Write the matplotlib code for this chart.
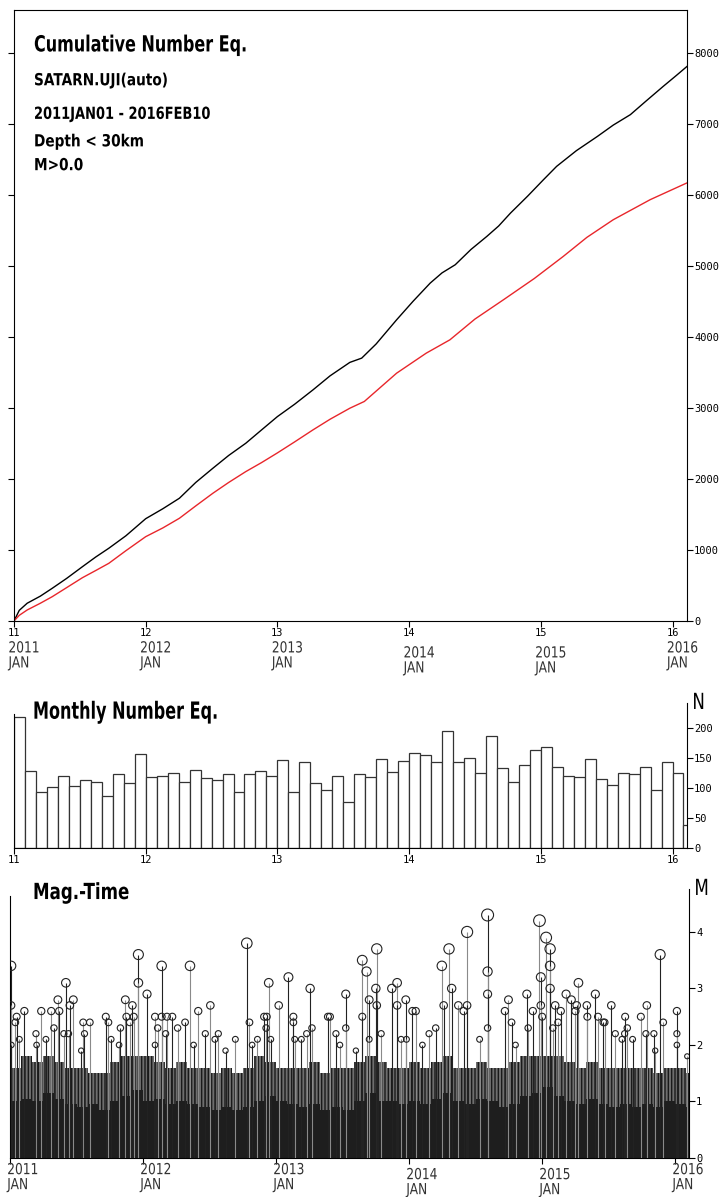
import matplotlib
matplotlib.use("Agg")
import matplotlib.pyplot as plt
import matplotlib.patheffects as pe
from matplotlib.transforms import Affine2D

# ---- data ----
# cumulative curves (decimal year, count)
cum_t = [2011.0, 2011.04, 2011.1, 2011.2, 2011.29, 2011.4, 2011.52, 2011.62, 2011.72, 2011.85,
         2012.0, 2012.13, 2012.256, 2012.38, 2012.51, 2012.63, 2012.76, 2012.88,
         2013.0, 2013.13, 2013.27, 2013.4, 2013.55, 2013.64, 2013.75, 2013.905,
         2014.03, 2014.16, 2014.25, 2014.35, 2014.47, 2014.59, 2014.68, 2014.77, 2014.9,
         2015.02, 2015.12, 2015.27, 2015.43, 2015.55, 2015.68, 2015.8, 2015.93, 2016.03, 2016.117]
cum_all = [0, 150, 250, 350, 460, 600, 765, 900, 1024, 1200,
           1440, 1580, 1728, 1950, 2150, 2330, 2502, 2690,
           2877, 3050, 3253, 3451, 3640, 3700, 3900, 4239,
           4500, 4756, 4900, 5014, 5230, 5413, 5560, 5742, 5980,
           6211, 6399, 6620, 6821, 6980, 7127, 7320, 7526, 7680, 7817]

red_t = [2011.0, 2011.04, 2011.1, 2011.2, 2011.29, 2011.4, 2011.52, 2011.62, 2011.72, 2011.85,
         2012.0, 2012.13, 2012.256, 2012.38, 2012.51, 2012.63, 2012.76, 2012.88,
         2013.0, 2013.13, 2013.27, 2013.4, 2013.55, 2013.66, 2013.905,
         2014.13, 2014.31, 2014.5, 2014.716, 2014.95, 2015.17, 2015.35, 2015.55, 2015.83, 2016.107]
cum_red = [0, 80, 155, 250, 342, 470, 610, 710, 812, 990,
           1187, 1310, 1446, 1620, 1798, 1950, 2103, 2230,
           2366, 2520, 2690, 2840, 2995, 3090, 3488,
           3770, 3958, 4250, 4521, 4820, 5131, 5400, 5648, 5930, 6164]

# monthly counts, 2011 JAN .. 2016 FEB (last month partial)
monthly_n = [219, 129, 93, 101, 120, 104, 113, 110, 86, 124, 108, 157,
             118, 120, 126, 110, 131, 117, 113, 124, 93, 124, 128, 120,
             147, 93, 143, 108, 96, 120, 77, 123, 118, 149, 127, 146,
             159, 155, 144, 196, 143, 151, 125, 187, 133, 110, 138, 163,
             169, 135, 121, 118, 149, 115, 105, 126, 123, 136, 96, 143,
             126, 39]

# larger events of the magnitude-time plot
ev_year = [2011.008, 2011.008, 2011.01, 2011.04, 2011.05, 2011.07, 2011.108, 2011.195, 2011.2, 2011.235,
           2011.27, 2011.31, 2011.33, 2011.36, 2011.37, 2011.405, 2011.42, 2011.44, 2011.45, 2011.476,
           2011.535, 2011.55, 2011.56, 2011.60, 2011.72, 2011.74, 2011.76, 2011.82, 2011.83, 2011.867,
           2011.875, 2011.90, 2011.92, 2011.93, 2011.965, 2011.965,
           2012.03, 2012.09, 2012.09, 2012.11, 2012.14, 2012.14, 2012.17, 2012.18, 2012.22, 2012.26,
           2012.316, 2012.353, 2012.38, 2012.415, 2012.468, 2012.506, 2012.54, 2012.566, 2012.62, 2012.694,
           2012.78, 2012.80, 2012.82, 2012.86, 2012.91, 2012.925, 2012.93, 2012.945, 2012.96,
           2013.02, 2013.093, 2013.13, 2013.13, 2013.14, 2013.19, 2013.23, 2013.256, 2013.27, 2013.39,
           2013.405, 2013.45, 2013.48, 2013.524, 2013.524, 2013.6, 2013.648, 2013.648, 2013.68, 2013.70,
           2013.70, 2013.75, 2013.757, 2013.757, 2013.79, 2013.87, 2013.91, 2013.91, 2013.94, 2013.975, 2013.98,
           2014.025, 2014.05, 2014.1, 2014.15, 2014.2, 2014.246, 2014.26, 2014.30, 2014.32, 2014.37,
           2014.41, 2014.436, 2014.436, 2014.53, 2014.59, 2014.59, 2014.59, 2014.59, 2014.72, 2014.747,
           2014.77, 2014.80, 2014.885, 2014.895, 2014.93, 2014.98, 2014.99, 2014.99,
           2015.0, 2015.03, 2015.06, 2015.06, 2015.06, 2015.08, 2015.098, 2015.12, 2015.14, 2015.18,
           2015.22, 2015.25, 2015.26, 2015.273, 2015.336, 2015.34, 2015.40, 2015.42, 2015.46, 2015.47,
           2015.52, 2015.55, 2015.60, 2015.62, 2015.624, 2015.64, 2015.68, 2015.742, 2015.78, 2015.787,
           2015.84, 2015.85, 2015.887, 2015.91,
           2016.013, 2016.013, 2016.013, 2016.09]
ev_mag = [3.4, 2.7, 2.0, 2.4, 2.5, 2.1, 2.6, 2.2, 2.0, 2.6,
          2.1, 2.6, 2.3, 2.8, 2.6, 2.2, 3.1, 2.2, 2.7, 2.8,
          1.9, 2.4, 2.2, 2.4, 2.5, 2.4, 2.1, 2.0, 2.3, 2.8,
          2.5, 2.4, 2.7, 2.5, 3.6, 3.1,
          2.9, 2.5, 2.0, 2.3, 3.4, 2.5, 2.2, 2.5, 2.5, 2.3,
          2.4, 3.4, 2.0, 2.6, 2.2, 2.7, 2.1, 2.2, 1.9, 2.1,
          3.8, 2.4, 2.0, 2.1, 2.5, 2.3, 2.5, 3.1, 2.1,
          2.7, 3.2, 2.5, 2.4, 2.1, 2.1, 2.2, 3.0, 2.3, 2.5,
          2.5, 2.2, 2.0, 2.9, 2.3, 1.9, 3.5, 2.5, 3.3, 2.8,
          2.1, 3.0, 3.7, 2.7, 2.2, 3.0, 3.1, 2.7, 2.1, 2.8, 2.1,
          2.6, 2.6, 2.0, 2.2, 2.3, 3.4, 2.7, 3.7, 3.0, 2.7,
          2.6, 4.0, 2.7, 2.1, 4.3, 3.3, 2.9, 2.3, 2.6, 2.8,
          2.4, 2.0, 2.9, 2.3, 2.6, 4.2, 3.2, 2.7,
          2.5, 3.9, 3.7, 3.4, 3.0, 2.3, 2.7, 2.4, 2.6, 2.9,
          2.8, 2.6, 2.7, 3.1, 2.7, 2.5, 2.9, 2.5, 2.4, 2.4,
          2.7, 2.2, 2.1, 2.2, 2.5, 2.3, 2.1, 2.5, 2.2, 2.7,
          2.2, 1.9, 3.6, 2.4,
          2.6, 2.2, 2.0, 1.8]

# per month: level of the solid black mass of small events, and top of the dense swarm above it
solid_top = [1.0, 1.05, 1.0, 1.15, 1.05, 0.95, 0.9, 0.95, 0.85, 1.0, 1.1, 1.2,
             1.0, 1.05, 0.95, 1.0, 0.95, 0.9, 0.85, 0.9, 0.85, 0.9, 1.0, 1.1,
             1.0, 0.95, 0.9, 0.95, 0.85, 0.9, 0.85, 1.0, 1.15, 1.0, 1.0, 0.95,
             1.0, 0.95, 1.05, 1.15, 1.0, 0.95, 1.05, 1.0, 0.9, 0.95, 1.1, 1.15,
             1.25, 1.1, 1.0, 0.95, 1.05, 0.95, 0.9, 0.95, 0.9, 0.95, 0.9, 1.0,
             0.95, 0.9]
swarm_top = [1.6, 1.8, 1.7, 1.8, 1.7, 1.6, 1.6, 1.5, 1.5, 1.7, 1.8, 1.8,
             1.8, 1.7, 1.6, 1.7, 1.6, 1.6, 1.5, 1.6, 1.5, 1.6, 1.8, 1.7,
             1.6, 1.6, 1.6, 1.7, 1.5, 1.6, 1.6, 1.7, 1.8, 1.7, 1.6, 1.6,
             1.7, 1.6, 1.7, 1.8, 1.6, 1.6, 1.7, 1.6, 1.6, 1.7, 1.8, 1.8,
             1.8, 1.8, 1.7, 1.6, 1.7, 1.6, 1.6, 1.6, 1.6, 1.6, 1.5, 1.6,
             1.6, 1.5]

years = [2011, 2012, 2013, 2014, 2015, 2016]
year_short = ["11", "12", "13", "14", "15", "16"]
year_drop = [0, 0, 0, 5, 5, 0]   # the 2014/2015 labels sit a little lower

T_END = 2016.11
MONO = "DejaVu Sans Mono"

W, H = 723, 1197
fig = plt.figure(figsize=(W / 100, H / 100), dpi=100)


class Squeeze(pe.AbstractPathEffect):
    """Draw text narrower, scaled about its own origin."""

    def __init__(self, sx):
        super().__init__()
        self.sx = sx

    def draw_path(self, renderer, gc, tpath, affine, rgbFace=None):
        renderer.draw_path(gc, tpath, Affine2D().scale(self.sx, 1.0) + affine, rgbFace)


def rect(left, top, right, bottom):
    return [left / W, 1 - bottom / H, (right - left) / W, (bottom - top) / H]


def style_right(ax, ticks):
    ax.set_yticks(ticks)
    ax.tick_params(axis="y", left=False, right=True, labelleft=False, labelright=True,
                   direction="out", length=4, width=0.8, pad=1, labelsize=7.5)
    for lab in ax.get_yticklabels():
        lab.set_family(MONO)
    ax.tick_params(axis="x", direction="out", length=4, width=0.8, pad=1, labelsize=7.5)


def year_labels(ax, dx, dy):
    for yr, drop in zip(years, year_drop):
        ax.annotate(f"{yr}\nJAN", xy=(yr, 0), xycoords=("data", "axes fraction"),
                    xytext=(dx, dy - drop * 0.72), textcoords="offset points",
                    ha="left", va="top", fontsize=11, family="DejaVu Sans", color="#333333",
                    linespacing=1.0, path_effects=[Squeeze(0.8)])


def heavy(ax, x, y, s, size, sx):
    ax.text(x, y, s, transform=ax.transAxes, fontsize=size, family="DejaVu Sans",
            weight="bold", va="center", path_effects=[Squeeze(sx)])


# ---- cumulative number ----
ax1 = fig.add_axes(rect(14, 10, 687, 621))
ax1.plot(cum_t, cum_all, color="black", lw=1.0)
ax1.plot(red_t, cum_red, color="#e8262b", lw=1.0)
ax1.set_xlim(2011.0, T_END)
ax1.set_ylim(0, 8600)
style_right(ax1, range(0, 8001, 1000))
ax1.tick_params(axis="y", left=True)
ax1.set_xticks(years)
ax1.set_xticklabels(year_short, family=MONO)
year_labels(ax1, -4, -14)

tx = 20 / 673
heavy(ax1, tx, 0.942, "Cumulative Number Eq.", 16, 0.72)
heavy(ax1, tx, 0.885, "SATARN.UJI(auto)", 12, 0.82)
heavy(ax1, tx, 0.83, "2011JAN01 - 2016FEB10", 12, 0.78)
heavy(ax1, tx, 0.785, "Depth < 30km", 12, 0.82)
heavy(ax1, tx, 0.746, "M>0.0", 12, 0.82)

# ---- monthly number ----
ax2 = fig.add_axes(rect(14, 703, 687, 848))
month_left = [2011 + i / 12 for i in range(len(monthly_n))]
month_edges = month_left + [2011 + len(monthly_n) / 12]
ax2.bar(month_left, monthly_n, width=1 / 12, align="edge", facecolor="white",
        edgecolor="#333333", linewidth=0.9)
ax2.set_xlim(2011.0, T_END)
ax2.set_ylim(0, 242)
style_right(ax2, range(0, 201, 50))
ax2.set_xticks(years)
ax2.set_xticklabels(year_short, family=MONO)
ax2.spines["top"].set_visible(False)
ax2.spines["left"].set_bounds(0, 223)
ax2.text(1.008, 1.0, "N", transform=ax2.transAxes, fontsize=16, family="DejaVu Sans",
         va="center", path_effects=[Squeeze(0.75)])
heavy(ax2, 19 / 673, 0.94, "Monthly Number Eq.", 17, 0.68)

# ---- magnitude - time ----
ax3 = fig.add_axes(rect(10, 889, 689, 1158))
ax3.stairs(swarm_top, month_edges, fill=True, facecolor="#6e6e6e", edgecolor="#1a1a1a",
           hatch="|||||", linewidth=0, zorder=1)
ax3.stairs(solid_top, month_edges, fill=True, color="#1e1e1e", zorder=2)
stem_cols = ["#222222" if i % 2 == 0 else "#8a8a8a" for i in range(len(ev_year))]
ax3.vlines(ev_year, 0, ev_mag, colors=stem_cols, lw=0.8, zorder=3)
ax3.scatter(ev_year, ev_mag, s=[(2.0 * m) ** 2 for m in ev_mag], facecolors="none",
            edgecolors="#222222", linewidths=0.8, zorder=4)
ax3.set_xlim(2011.0, 2016.104)
ax3.set_ylim(0, 4.76)
style_right(ax3, range(0, 5))
ax3.set_xticks(years)
ax3.set_xticklabels([])
ax3.spines["top"].set_visible(False)
ax3.spines["left"].set_bounds(0, 4.63)
ax3.text(1.008, 1.0, "M", transform=ax3.transAxes, fontsize=16, family="DejaVu Sans",
         va="center", path_effects=[Squeeze(0.75)])
heavy(ax3, 23 / 679, 0.985, "Mag.-Time", 16, 0.75)
year_labels(ax3, -2, -3)

fig.savefig("out.png", dpi=100)
